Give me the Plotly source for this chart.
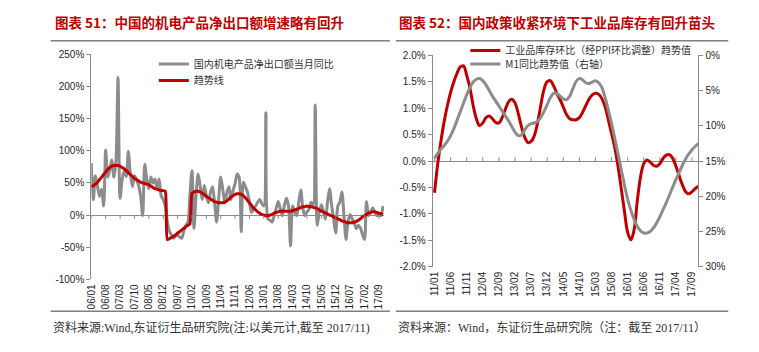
import plotly.graph_objects as go
import pandas as pd

W, H = 759, 352

# ---------------- Left chart data (图表 51) ----------------
left_months = pd.period_range("2006-01", "2017-11", freq="M").strftime("%y/%m").tolist()

left_net_export_yoy = [
    81, 24, 61, 45, 29, 40, 14, 101, 59, 70,
    86, 59, 84, 214, 26, 55, 69, 60, 99, 65,
    44, 61, 55, 46, 30, -1, 79, 55, 41, 59,
    50, 56, 41, 56, 30, 24, 14, -10, -25, -31,
    -36, -33, -31, -34, -36, -25, -16, -11, 30, 69,
    -21, 30, 64, 45, 24, 46, 30, 19, 35, 44,
    20, -11, 25, 59, 40, 19, 35, 44, 24, 38,
    49, 64, 58, -26, 51, 44, 36, 20, 4, 10,
    14, 20, 24, 18, 14, 159, -6, -8, -11, -1,
    10, 21, 10, -1, 15, 26, 14, -48, 14, 5,
    -1, 20, 39, 10, -1, 5, 9, 20, 15, 171,
    -16, 5, 16, 5, -6, 20, 41, 15, -6, -28,
    14, 20, 36, 0, -38, -10, 1, -6, -12, -21,
    -16, -20, -30, -38, 21, -1, 5, 11, 5, -1,
    0, -1, 14,
]

left_trend = [
    44, 46, 48, 51, 55, 59, 63, 67, 71, 74,
    76, 77, 77, 77, 76, 74, 72, 69, 66, 63,
    60, 57, 55, 53, 51, 50, 49, 48, 47, 45,
    43, 41, 40, 39, 38, 38, 37, -38, -37, -35,
    -33, -31, -28, -26, -23, -21, -18, -16, -14, 34,
    36, 37, 37, 36, 34, 32, 29, 27, 25, 23,
    21, 20, 19, 19, 19, 20, 22, 25, 28, 30,
    32, 33, 33, 32, 30, 27, 23, 19, 15, 11,
    8, 5, 3, 1, 0, -1, -1, 0, 1, 3,
    4, 5, 6, 6, 6, 6, 6, 6, 7, 8,
    9, 10, 12, 13, 13, 14, 13, 13, 12, 11,
    10, 8, 6, 5, 3, 2, 0, -1, -3, -4,
    -6, -7, -9, -10, -11, -12, -12, -12, -11, -10,
    -8, -6, -3, -1, 1, 3, 4, 5, 5, 4,
    3, 2, 1,
]

left_xtick_labels = ["06/01", "06/08", "07/03", "07/10", "08/05", "08/12", "09/07",
                     "10/02", "10/09", "11/04", "11/11", "12/06", "13/01", "13/08",
                     "14/03", "14/10", "15/05", "15/12", "16/07", "17/02", "17/09"]
left_ytick_values = [250, 200, 150, 100, 50, 0, -50, -100]
left_ytick_labels = ["250%", "200%", "150%", "100%", "50%", "0%", "-50%", "-100%"]

# ---------------- Right chart data (图表 52) ----------------
right_months = pd.period_range("2011-01", "2017-11", freq="M").strftime("%y/%m").tolist()

right_inventory_trend = [
    -0.60, -0.05, 0.38, 0.75, 1.05, 1.30, 1.50, 1.66, 1.78, 1.80,
    1.62, 1.38, 1.05, 0.80, 0.67, 0.72, 0.82, 0.85, 0.80, 0.73,
    0.72, 0.82, 0.98, 1.12, 1.17, 1.10, 0.90, 0.65, 0.45, 0.35,
    0.37, 0.48, 0.72, 1.05, 1.35, 1.50, 1.52, 1.42, 1.28, 1.16,
    1.02, 0.88, 0.80, 0.78, 0.78, 0.82, 0.92, 1.05, 1.17, 1.25,
    1.28, 1.26, 1.18, 1.02, 0.78, 0.52, 0.25, -0.10, -0.52, -0.95,
    -1.35, -1.49, -1.30, -0.75, -0.30, -0.05, 0.02, -0.02, -0.08, -0.10,
    -0.05, 0.05, 0.11, 0.12, 0.05, -0.10, -0.28, -0.45, -0.58, -0.62,
    -0.58, -0.52, -0.48,
]

right_m1_trend = [
    14.6, 13.9, 13.3, 12.8, 12.2, 11.4, 10.4, 9.2, 8.0, 6.8,
    5.6, 4.6, 3.8, 3.4, 3.3, 3.6, 4.2, 5.0, 5.8, 6.5,
    7.2, 7.9, 8.6, 9.3, 10.1, 10.9, 11.4, 11.3, 10.6, 10.0,
    9.7, 9.6, 9.4, 8.8, 8.0, 7.0, 6.0, 5.4, 5.4, 5.8,
    6.2, 6.3, 5.8, 4.7, 3.7, 3.3, 3.5, 3.9, 4.0, 3.8,
    3.6, 3.9, 4.6, 6.0, 7.8, 9.7, 11.8, 14.0, 16.2, 18.4,
    20.4, 22.0, 23.3, 24.3, 24.9, 25.2, 25.2, 25.0, 24.5, 23.8,
    22.9, 21.9, 20.9, 19.8, 18.7, 17.6, 16.6, 15.6, 14.7, 14.0,
    13.4, 12.9, 12.5,
]

right_xtick_labels = ["11/01", "11/06", "11/11", "12/04", "12/09", "13/02", "13/07",
                      "13/12", "14/05", "14/10", "15/03", "15/08", "16/01", "16/06",
                      "16/11", "17/04", "17/09"]
right_left_ytick_values = [2.0, 1.5, 1.0, 0.5, 0.0, -0.5, -1.0, -1.5, -2.0]
right_left_ytick_labels = ["2.0%", "1.5%", "1.0%", "0.5%", "0.0%", "-0.5%", "-1.0%", "-1.5%", "-2.0%"]
right_right_ytick_values = [0, 5, 10, 15, 20, 25, 30]
right_right_ytick_labels = ["0%", "5%", "10%", "15%", "20%", "25%", "30%"]

assert len(left_net_export_yoy) == len(left_months) == len(left_trend)
assert len(right_inventory_trend) == len(right_months) == len(right_m1_trend)

# ---------------- Styling ----------------
RED = "#C00000"
GRAY = "#8C8C8C"
AXIS = "#8A8A8A"
CJK = "Noto Sans CJK SC"
TICK_FONT = dict(family="Liberation Sans, Arial, sans-serif", size=10, color="#262626")
LEG_FONT = dict(family=CJK, size=10, color="#333333")
SRC_FONT = dict(family="Liberation Serif, " + CJK, size=12, color="#333333")
TITLE_FONT = dict(family=CJK, size=13.5, color=RED, weight="bold")


def px(x):
    return x / W


def py(y):
    return 1 - y / H


left_x = list(range(len(left_months)))
right_x = list(range(len(right_months)))

fig = go.Figure()

fig.add_trace(go.Scatter(x=left_x, y=left_net_export_yoy, mode="lines",
                         name="国内机电产品净出口额当月同比",
                         line=dict(color=GRAY, width=3, shape="spline", smoothing=0.8),
                         xaxis="x", yaxis="y", legend="legend"))
fig.add_trace(go.Scatter(x=left_x, y=left_trend, mode="lines", name="趋势线",
                         line=dict(color=RED, width=3, shape="spline", smoothing=0.6),
                         xaxis="x", yaxis="y", legend="legend2"))

fig.add_trace(go.Scatter(x=right_x, y=right_inventory_trend, mode="lines",
                         name="工业品库存环比（经PPI环比调整）趋势值",
                         line=dict(color=RED, width=3, shape="spline"),
                         xaxis="x2", yaxis="y2", legend="legend3"))
fig.add_trace(go.Scatter(x=right_x, y=right_m1_trend, mode="lines",
                         name="M1同比趋势值（右轴）",
                         line=dict(color=GRAY, width=3, shape="spline"),
                         xaxis="x2", yaxis="y3", legend="legend4"))

# domains (pixel positions converted to paper fractions)
L_X = [px(86), px(381)]
L_Y = [py(283), py(50)]
R_X = [px(430), px(698)]
R_Y = [py(270), py(51)]

left_tickvals = [left_months.index(l) for l in left_xtick_labels]
right_tickvals = [right_months.index(l) for l in right_xtick_labels]

common_x = dict(showgrid=False, zeroline=False, showline=False, ticks="",
                tickangle=-90, tickfont=TICK_FONT, ticklabelstandoff=2)
common_y = dict(showgrid=False, showline=True, linecolor=AXIS, linewidth=1,
                ticks="outside", ticklen=4, tickcolor=AXIS, tickfont=TICK_FONT)

legend_common = dict(xanchor="left", yanchor="middle", bgcolor="rgba(0,0,0,0)",
                     font=LEG_FONT, itemwidth=30, borderwidth=0)

fig.update_layout(
    width=W, height=H, margin=dict(l=0, r=0, t=0, b=0),
    paper_bgcolor="white", plot_bgcolor="white",
    showlegend=True,
    xaxis=dict(domain=L_X, anchor="y", range=[0, 142.5],
               tickmode="array", tickvals=left_tickvals, ticktext=left_xtick_labels, **common_x),
    yaxis=dict(domain=L_Y, anchor="x", range=[-100, 250],
               tickmode="array", tickvals=left_ytick_values, ticktext=left_ytick_labels,
               zeroline=True, zerolinecolor=AXIS, zerolinewidth=1, **common_y),
    xaxis2=dict(domain=R_X, anchor="y2", range=[-0.6, 82.0],
                tickmode="array", tickvals=right_tickvals, ticktext=right_xtick_labels, **common_x),
    yaxis2=dict(domain=R_Y, anchor="x2", range=[-2.0, 2.0],
                tickmode="array", tickvals=right_left_ytick_values, ticktext=right_left_ytick_labels,
                zeroline=True, zerolinecolor=AXIS, zerolinewidth=1, **common_y),
    yaxis3=dict(overlaying="y2", anchor="x2", side="right", range=[30, 0],
                tickmode="array", tickvals=right_right_ytick_values, ticktext=right_right_ytick_labels,
                zeroline=False, **common_y),
    legend=dict(x=px(149), y=py(60), **legend_common),
    legend2=dict(x=px(149), y=py(77), **legend_common),
    legend3=dict(x=px(463), y=py(46), **legend_common),
    legend4=dict(x=px(463), y=py(60), **legend_common),
)

# small tick marks on the zero lines
L_TICK = 4 * 350 / (283 - 50)
R_TICK = 4 * 4.0 / (270 - 51)
shapes = []
for v in left_tickvals:
    shapes.append(dict(type="line", xref="x", yref="y", x0=v, x1=v, y0=0, y1=-L_TICK,
                       line=dict(color=AXIS, width=1)))
for v in right_tickvals:
    shapes.append(dict(type="line", xref="x2", yref="y2", x0=v, x1=v, y0=0, y1=R_TICK,
                       line=dict(color=AXIS, width=1)))
# separator rules under titles and above sources
for (x0, x1) in [(45, 387), (393, 728)]:
    for yy in (36, 316):
        shapes.append(dict(type="line", xref="paper", yref="paper",
                           x0=px(x0), x1=px(x1), y0=py(yy), y1=py(yy),
                           line=dict(color="#7F7F7F", width=1.5)))
fig.update_layout(shapes=shapes)

annotations = [
    dict(text="图表 51：中国的机电产品净出口额增速略有回升", x=px(47), y=py(17),
         xanchor="left", yanchor="middle", font=TITLE_FONT),
    dict(text="图表 52：国内政策收紧环境下工业品库存有回升苗头", x=px(394), y=py(17),
         xanchor="left", yanchor="middle", font=TITLE_FONT),
    dict(text="资料来源:Wind,东证衍生品研究院(注:以美元计,截至 2017/11)", x=px(45), y=py(333),
         xanchor="left", yanchor="middle", font=SRC_FONT),
    dict(text="资料来源：Wind，东证衍生品研究院（注：截至 2017/11）", x=px(393), y=py(333),
         xanchor="left", yanchor="middle", font=SRC_FONT),
]
for a in annotations:
    a.update(xref="paper", yref="paper", showarrow=False)
fig.update_layout(annotations=annotations)

fig.write_html("out.html")
